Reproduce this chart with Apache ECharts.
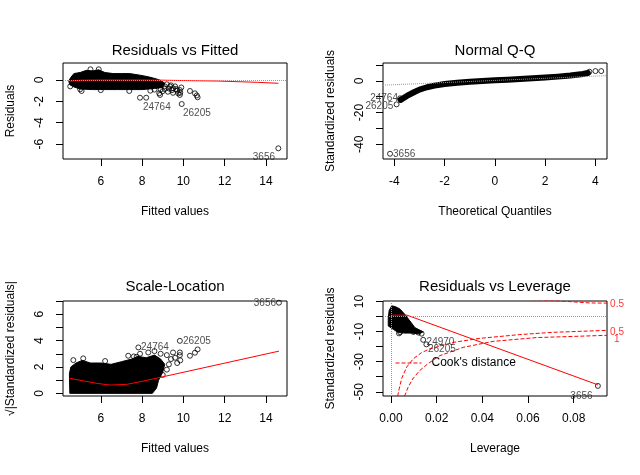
<!DOCTYPE html>
<html><head><meta charset="utf-8">
<script src="https://cdn.jsdelivr.net/npm/echarts@6.0.0/dist/echarts.min.js"></script>
<style>html,body{margin:0;padding:0;background:#fff}#c{width:640px;height:475px}</style>
</head><body><div id="c"></div>
<script>
// ---------- Panel 1: Residuals vs Fitted ----------
const rvfXTicks = [6, 8, 10, 12, 14];
const rvfYTicks = [-6, -4, -2, 0];
const rvfBlob = [[4.45,-0.1],[4.55,0.25],[4.7,0.6],[5.0,0.7],[5.3,0.9],[5.6,0.85],[5.9,0.95],[6.2,0.7],[6.6,0.6],[7.0,0.6],[7.4,0.6],[7.9,0.45],[8.3,0.3],[8.7,0.1],[8.9,-0.05],[9.1,-0.3],
  [9.0,-0.7],[8.6,-0.8],[8.0,-0.9],[7.4,-0.9],[6.8,-0.9],[6.2,-0.9],[5.6,-0.9],[5.0,-0.85],[4.7,-0.65],[4.5,-0.45]];
const rvfPoints = [[4.52,-0.6],[5.0,-0.87],[5.07,-1.03],[5.5,1.0],[5.9,1.0],[6.0,-0.95],[7.38,-1.03],[7.9,-1.66],[8.2,-1.66],[8.4,-1.0],[8.6,-0.9],[8.83,-1.25],[8.87,-1.4],[8.9,-0.9],[9.0,-1.05],[9.1,-0.6],[9.1,-0.85],[9.2,-0.4],[9.25,-1.1],[9.3,-0.8],[9.35,-0.6],[9.4,-0.5],[9.45,-0.95],[9.5,-0.78],[9.5,-1.2],[9.6,-0.6],[9.65,-0.85],[9.7,-1.0],[9.75,-1.25],[9.83,-0.94],[9.83,-1.4],[9.85,-1.2],[9.9,-0.7],[10.32,-1.03],[10.56,-1.25],[10.69,-1.62],[10.65,-1.45],[9.92,-2.25],[14.6,-6.4]];
const rvfLowess = [[4.5,-0.12],[5.0,-0.02],[6.0,0.0],[7.0,0.0],[8.0,0.0],[9.0,-0.02],[9.83,-0.05],[9.85,-0.1],[11.67,-0.1],[11.7,-0.22],[13.6,-0.22],[13.65,-0.31],[14.6,-0.31]];
const rvfLabels = [{name:'24764', value:[8.04,-2.53], side:'right'},{name:'26205', value:[9.98,-3.09], side:'right'},{name:'3656', value:[14.44,-7.22], side:'left'}];

// ---------- Panel 2: Normal Q-Q ----------
const qqXTicks = [-4, -2, 0, 2, 4];
const qqYTicks = [-40, -30, -20, -10, 0, 10];
const qqYLabels = [-40, -20, 0];
const qqCurve = [[-3.75,-12],[-3.5,-9.5],[-3.2,-7],[-3.0,-5.5],[-2.7,-4],[-2.4,-3],[-2.0,-2],[-1.5,-1.2],[-1.0,-0.6],[-0.5,-0.1],[0,0.4],[0.5,0.8],[1.0,1.2],[1.5,1.6],[2.0,2.1],[2.5,2.7],[3.0,3.4],[3.5,4.4],[3.7,5.0]];
const qqRefLine = [[-4.45,-2.7],[4.45,3.3]];
const qqPoints = [[-3.77,-11],[-3.91,-14.8],[-4.17,-46],[3.76,5.8],[4.0,6.2],[4.23,6.2]];
const qqLabels = [{name:'24764', value:[-3.855,-10.8], side:'left'},{name:'26205', value:[-4.04,-16.3], side:'left'},{name:'3656', value:[-4.05,-46.1], side:'right'}];

// ---------- Panel 3: Scale-Location ----------
const slXTicks = [6, 8, 10, 12, 14];
const slYTicks = [0, 1, 2, 3, 4, 5, 6, 7];
const slYLabels = [0, 2, 4, 6];
const slBlob = [[4.5,0],[4.48,1.5],[4.55,2.0],[4.8,2.3],[5.1,2.5],[5.5,2.3],[6.0,2.3],[6.5,2.2],[7.0,2.4],[7.5,2.6],[7.8,2.8],[8.2,2.7],[8.6,2.9],[8.9,2.6],[9.1,2.2],[9.0,1.6],[8.8,1.0],[8.7,0.4],[8.5,0]];
const slPoints = [[4.67,2.52],[5.15,2.65],[6.21,2.45],[7.33,2.85],[7.74,2.77],[7.6,2.8],[7.9,3.0],[8.3,3.1],[8.6,3.2],[8.9,3.0],[9.2,2.9],[9.4,2.6],[9.5,3.1],[9.6,2.7],[9.83,3.1],[9.83,2.9],[9.85,2.5],[9.7,2.3],[9.3,2.2],[9.2,1.8],[9.0,1.4],[10.32,2.85],[10.56,3.08],[10.69,3.33],[9.83,3.98],[7.82,3.48],[14.63,6.87]];
const slLowess = [[4.5,1.14],[5.15,0.95],[5.8,0.76],[6.45,0.63],[7.25,0.68],[7.9,0.88],[8.79,1.18],[14.63,3.2]];
const slLabels = [{name:'24764', value:[7.95,3.5], side:'right'},{name:'26205', value:[9.98,3.96], side:'right'},{name:'3656', value:[14.49,6.84], side:'left'}];

// ---------- Panel 4: Residuals vs Leverage ----------
const rvlXTicks = [0, 0.02, 0.04, 0.06, 0.08];
const rvlYTicks = [-50, -40, -30, -20, -10, 0, 10];
const rvlYLabels = [-50, -30, -10, 10];
const rvlBlob = [[-0.0012,-1],[-0.0008,4],[0.0003,7.1],[0.002,6.5],[0.004,4.9],[0.006,1.5],[0.0083,-3],[0.0105,-7.4],[0.0141,-10.2],[0.012,-11.5],[0.009,-11],[0.006,-11],[0.0032,-10.7],[0.001,-8.5],[-0.0012,-6.3]];
const rvlPoints = [[0.0035,-11.2],[0.004,-10.5],[0.0098,-10.3],[0.012,-10.7],[0.0134,-11.4],[0.0141,-15.5],[0.0155,-18.5],[0.0906,-46.1]];
const rvlLowess = [[0.0003,0.9],[0.007,0.9],[0.0906,-45.4]];
const cookUpper05 = [[0.0564,11.6],[0.0724,10.5],[0.087,9.0],[0.0946,8.9]];
const cookLower05 = [[0.0029,-53],[0.0036,-48],[0.0047,-41],[0.0069,-33.5],[0.0098,-28],[0.0134,-24],[0.017,-21.5],[0.0272,-17.2],[0.0389,-14.5],[0.0564,-12],[0.071,-10.5],[0.0946,-9.2]];
const cookLower1 = [[0.0059,-53],[0.0075,-47],[0.0095,-41.5],[0.0125,-36],[0.0165,-31],[0.0214,-26],[0.0316,-20.5],[0.0447,-16.5],[0.0637,-14],[0.0946,-12.5]];
const rvlLabels = [{name:'24970', value:[0.0156,-17.4], side:'right'},{name:'26205', value:[0.0162,-21.9], side:'right'},{name:'3656', value:[0.0883,-52.8], side:'left'}];
const cookLabels = [{name:'0.5', value:[0.099,8.26]},{name:'0.5', value:[0.099,-10.3]},{name:'1', value:[0.0989,-14.8]}];

const FONT = "'Liberation Sans', Arial, Helvetica, sans-serif";
const grids = [
  {left:63, top:63, width:224, height:96},
  {left:383, top:63, width:224, height:96},
  {left:63, top:301, width:224, height:95},
  {left:383, top:301, width:224, height:95}
];
const titles = ['Residuals vs Fitted','Normal Q-Q','Scale-Location','Residuals vs Leverage'];

function xAx(i, min, max, ticks, labels, name, fmt){
  return {gridIndex:i, type:'value', min:min, max:max, position:'bottom',
    axisLine:{show:false, onZero:false}, splitLine:{show:false},
    axisTick:{show:true, inside:false, length:7, customValues:ticks, lineStyle:{color:'#000'}},
    axisLabel:{customValues:labels, margin:17, fontSize:12, color:'#000', fontFamily:FONT, formatter:fmt},
    name:name, nameLocation:'middle', nameGap:47, nameTextStyle:{fontSize:12, color:'#000', fontFamily:FONT}};
}
function yAx(i, min, max, ticks, labels, name){
  return {gridIndex:i, type:'value', min:min, max:max, position:'left',
    axisLine:{show:false, onZero:false}, splitLine:{show:false},
    axisTick:{show:true, inside:false, length:7, customValues:ticks, lineStyle:{color:'#000'}},
    axisLabel:{customValues:labels, margin:17, rotate:90, fontSize:12, color:'#000', fontFamily:FONT},
    name:name, nameLocation:'middle', nameGap:46, nameRotate:90, nameTextStyle:{fontSize:12, color:'#000', fontFamily:FONT}};
}
function blob(i, pts){
  return {type:'custom', xAxisIndex:i, yAxisIndex:i, data:[pts[0]], silent:true, z:2,
    renderItem:function(params, api){
      return {type:'polygon', shape:{points:pts.map(p=>api.coord(p))}, style:{fill:'#000', stroke:'#000', lineWidth:1}};
    }};
}
function circles(i, pts){
  return {type:'scatter', xAxisIndex:i, yAxisIndex:i, data:pts, symbol:'circle', symbolSize:5, z:3,
    itemStyle:{color:'rgba(0,0,0,0)', borderColor:'#000', borderWidth:1}};
}
function line(i, pts, color, width, type, name){
  return {type:'line', name:name, xAxisIndex:i, yAxisIndex:i, data:pts, symbol:'none', showSymbol:false, z:4, clip:true,
    lineStyle:{color:color, width:width, type:type||'solid'}, itemStyle:{color:color}};
}
function labels(i, items, color){
  return {type:'scatter', xAxisIndex:i, yAxisIndex:i, symbolSize:0, z:5, clip:false,
    data:items.map(d=>({name:d.name, value:d.value, label:{position:d.side||'inside'}})),
    label:{show:true, distance:0, formatter:'{b}', fontSize:10, color:color||'#222', fontFamily:FONT}};
}
const dotted = {color:'#9a9a9a', type:'dotted', width:1};

const option = {
  animation:false,
  backgroundColor:'#fff',
  grid: grids.map(g=>Object.assign({show:true, borderColor:'#000', borderWidth:1, backgroundColor:'rgba(0,0,0,0)'}, g)),
  title: titles.map((t,i)=>({text:t, left:grids[i].left+grids[i].width/2, top:(i<2?43:279), textAlign:'center', padding:0,
    textStyle:{fontSize:15, fontWeight:'normal', color:'#000', fontFamily:FONT}})),
  legend:{data:["Cook's distance"], left:390, top:352, itemWidth:26, itemHeight:10, itemGap:0,
    itemStyle:{color:'rgba(0,0,0,0)', borderWidth:0, opacity:0},
    lineStyle:{color:'#ff0000', type:'dashed', width:1},
    textStyle:{fontSize:12, color:'#000', fontFamily:FONT, padding:[0,0,0,5]}},
  xAxis:[
    xAx(0, 4.17, 15.02, rvfXTicks, rvfXTicks, 'Fitted values'),
    xAx(1, -4.45, 4.46, qqXTicks, qqXTicks, 'Theoretical Quantiles'),
    xAx(2, 4.17, 15.02, slXTicks, slXTicks, 'Fitted values'),
    xAx(3, -0.0035, 0.0946, rvlXTicks, rvlXTicks, 'Leverage', v=>v.toFixed(2))
  ],
  yAxis:[
    yAx(0, -7.4, 1.59, rvfYTicks, rvfYTicks, 'Residuals'),
    yAx(1, -49.3, 11.3, qqYTicks, qqYLabels, 'Standardized residuals'),
    yAx(2, -0.2, 7.0, slYTicks, slYLabels, '\u221A|Standardized residuals|'),
    yAx(3, -52.8, 10.3, rvlYTicks, rvlYLabels, 'Standardized residuals')
  ],
  series:[
    Object.assign(line(0, rvfLowess, '#ff0000', 1), {markLine:{silent:true, symbol:'none', label:{show:false}, lineStyle:dotted, data:[{yAxis:0}]}}),
    blob(0, rvfBlob),
    circles(0, rvfPoints),
    labels(0, rvfLabels),
    line(1, qqRefLine, '#9a9a9a', 1, 'dotted'),
    Object.assign(line(1, qqCurve, '#000', 6), {z:3, lineStyle:{color:'#000', width:6, cap:'round', join:'round'}}),
    circles(1, qqPoints),
    labels(1, qqLabels),
    blob(2, slBlob),
    circles(2, slPoints),
    line(2, slLowess, '#ff0000', 1),
    labels(2, slLabels),
    Object.assign(line(3, rvlLowess, '#ff0000', 1), {markLine:{silent:true, symbol:'none', label:{show:false}, lineStyle:dotted, data:[{xAxis:0},{yAxis:0}]}}),
    blob(3, rvlBlob),
    circles(3, rvlPoints),
    line(3, cookUpper05, '#ff0000', 1, 'dashed', "Cook's distance"),
    line(3, cookLower05, '#ff0000', 1, 'dashed', "Cook's distance"),
    line(3, cookLower1, '#ff0000', 1, 'dashed', "Cook's distance"),
    labels(3, rvlLabels),
    labels(3, cookLabels, '#ff0000')
  ]
};
const chart = echarts.init(document.getElementById('c'), null, {renderer:'canvas'});
chart.setOption(option);
</script></body></html>
